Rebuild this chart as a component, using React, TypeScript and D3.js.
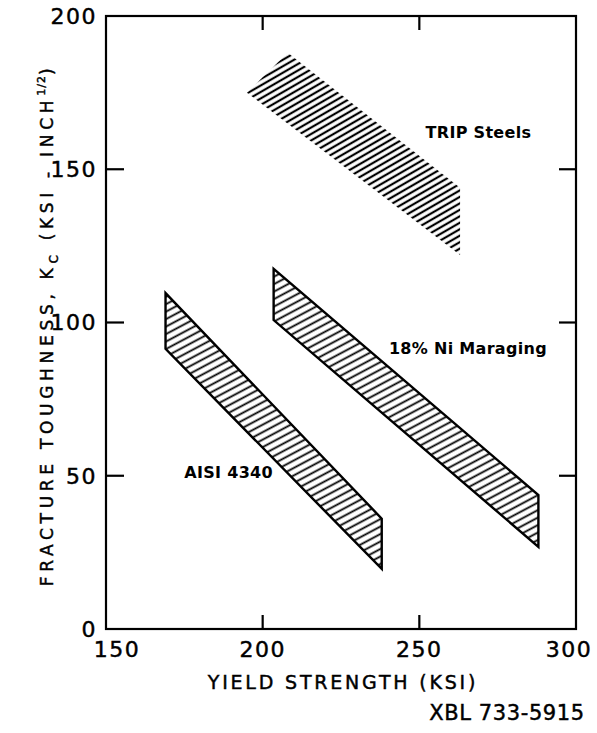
import React from "react";
import * as d3 from "d3";

const xTicks = [150, 200, 250, 300];
const yTicks = [0, 50, 100, 150, 200];
const innerXTicks = [200, 250];
const innerYTicks = [50, 100, 150];

const tripBand: [number, number][] = [[195, 175], [208, 188], [263, 144], [263, 122]];
const maragingBand: [number, number][] = [[203.5, 117.5], [203.5, 100.8], [288, 26.8], [288, 43.7]];
const aisiBand: [number, number][] = [[169, 109.6], [169, 91.4], [238, 19.6], [238, 36]];

const labels = [
  { text: "TRIP Steels", x: 252, y: 162 },
  { text: "18% Ni Maraging", x: 240.3, y: 91.7 },
  { text: "AISI 4340", x: 175, y: 51 },
];

const W = 597, H = 733;
const x = d3.scaleLinear().domain([150, 300]).range([106, 576]);
const y = d3.scaleLinear().domain([0, 200]).range([629, 16]);
const line = d3.line<[number, number]>().x(d => x(d[0])).y(d => y(d[1]));

export default function App() {
  const font = "'DejaVu Sans', sans-serif";
  const bands = [
    { id: "trip", pts: tripBand, outline: false, pat: "patTrip" },
    { id: "mar", pts: maragingBand, outline: true, pat: "patOut" },
    { id: "aisi", pts: aisiBand, outline: true, pat: "patOut" },
  ];
  const xLabelShift = (t: number) => (t === 150 ? 11 : t === 300 ? -7 : 0);
  const thick = { stroke: "#000", strokeWidth: 0.45 };
  return (
    <svg width={W} height={H} style={{ position: "absolute", left: 0, top: 0, background: "#fff" }} fontFamily={font}>
      <defs>
        <pattern id="patOut" patternUnits="userSpaceOnUse" width={20} height={6.6} patternTransform="rotate(-28)">
          <line x1={0} x2={20} y1={3.3} y2={3.3} stroke="#000" strokeWidth={1.8} />
        </pattern>
        <pattern id="patTrip" patternUnits="userSpaceOnUse" width={20} height={5.6} patternTransform="rotate(-30)">
          <line x1={0} x2={20} y1={2.8} y2={2.8} stroke="#000" strokeWidth={2.2} />
        </pattern>
      </defs>
      <rect x={0} y={0} width={W} height={H} fill="#fff" />
      {bands.map(b => (
        <path key={b.id} d={line(b.pts)! + "Z"} fill={`url(#${b.pat})`}
          stroke={b.outline ? "#000" : "none"} strokeWidth={2.4} strokeLinejoin="miter" />
      ))}
      <rect x={x(150)} y={y(200)} width={x(300) - x(150)} height={y(0) - y(200)} fill="none" stroke="#000" strokeWidth={2.2} />
      {innerYTicks.map(t => (
        <g key={"yt" + t}>
          <line x1={x(150)} x2={x(150) + 18} y1={y(t)} y2={y(t)} stroke="#000" strokeWidth={2.2} />
          <line x1={x(300)} x2={x(300) - 17} y1={y(t)} y2={y(t)} stroke="#000" strokeWidth={2.2} />
        </g>
      ))}
      {innerXTicks.map(t => (
        <g key={"xt" + t}>
          <line x1={x(t)} x2={x(t)} y1={y(0)} y2={y(0) - 14} stroke="#000" strokeWidth={2.2} />
          <line x1={x(t)} x2={x(t)} y1={y(200)} y2={y(200) + 14} stroke="#000" strokeWidth={2.2} />
        </g>
      ))}
      {yTicks.map(t => (
        <text key={"yl" + t} x={97} y={y(t)} dy="0.36em" textAnchor="end" fontSize={22} letterSpacing={1.5} {...thick}>{t}</text>
      ))}
      {xTicks.map(t => (
        <text key={"xl" + t} x={x(t) + xLabelShift(t)} y={657} textAnchor="middle" fontSize={22} letterSpacing={1.5} {...thick}>{t}</text>
      ))}
      <text x={343} y={689} textAnchor="middle" fontSize={19} letterSpacing={2.8} {...thick}>YIELD STRENGTH (KSI)</text>
      <text x={507} y={720} textAnchor="middle" fontSize={21} letterSpacing={0.6} {...thick}>XBL 733-5915</text>
      <text transform="translate(53,325) rotate(-90)" textAnchor="middle" fontSize={17} letterSpacing={4.7} {...thick}>
        FRACTURE TOUGHNESS, K<tspan fontSize={12} dy={5}>C</tspan><tspan dy={-5}>{"  (KSI - INCH"}</tspan><tspan fontSize={11} dy={-8} letterSpacing={1}>1/2</tspan><tspan dy={8}>)</tspan>
      </text>
      {labels.map(l => (
        <text key={l.text} x={x(l.x)} y={y(l.y)} dy="0.36em" fontSize={16} fontWeight="bold" letterSpacing={0.3}>{l.text}</text>
      ))}
    </svg>
  );
}
